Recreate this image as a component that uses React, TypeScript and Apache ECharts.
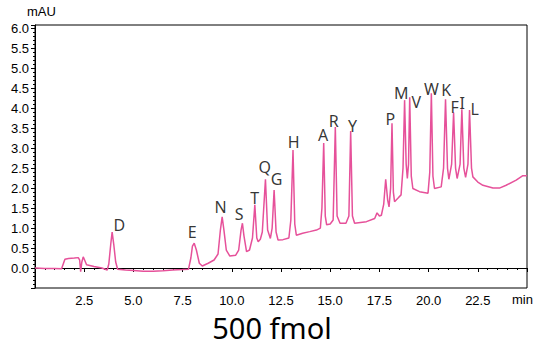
import React, { useEffect, useRef } from "react";
import * as echarts from "echarts";

// Chromatogram trace: [time (min), absorbance (mAU)]
const traceTimes: number[] = [
  0, 0.5, 1.0, 1.35, 1.52, 1.7, 2.0, 2.2, 2.27, 2.32, 2.38, 2.45, 2.52, 2.62, 3.0, 3.4, 3.67,
  3.75, 3.85, 3.92, 4.0, 4.1, 4.2, 4.6, 5.0, 5.5, 6.0, 6.5, 7.0, 7.5, 7.8,
  7.92, 8.0, 8.09, 8.2, 8.35, 8.5, 8.8, 9.1, 9.3, 9.42, 9.51, 9.6, 9.72, 9.9,
  10.2, 10.35, 10.47, 10.54, 10.62, 10.75, 10.9, 11.05, 11.17, 11.27, 11.34, 11.45, 11.55,
  11.71, 11.82, 11.96, 12.05, 12.15, 12.25, 12.35, 12.6, 12.9, 13.0, 13.11, 13.2, 13.28,
  13.6, 13.96, 14.3, 14.5, 14.58, 14.67, 14.75, 14.82, 15.0, 15.15, 15.26, 15.35, 15.5,
  15.8, 15.95, 16.04, 16.13, 16.24, 16.84, 17.26, 17.38, 17.5, 17.6, 17.72, 17.82, 17.92,
  17.99, 18.07, 18.14, 18.21, 18.27, 18.45, 18.6, 18.7, 18.78, 18.86, 18.92, 18.98, 19.04,
  19.12, 19.2, 19.54, 19.97, 20.06, 20.14, 20.22, 20.3, 20.64, 20.76, 20.86, 20.96, 21.03,
  21.17, 21.27, 21.37, 21.45, 21.6, 21.69, 21.79, 21.88, 22.0, 22.08, 22.18, 22.25, 22.5,
  22.76, 23.27, 23.6, 23.94, 24.45, 24.79, 25.0,
];
const traceValues: number[] = [
  0.0, -0.01, -0.01, -0.02, 0.22, 0.24, 0.25, 0.26, 0.2, -0.09, 0.15, 0.28, 0.2, 0.08, 0.04, 0.0, -0.05,
  0.1, 0.6, 0.9, 0.6, 0.15, -0.03, -0.05, -0.06, -0.08, -0.08, -0.07, -0.05, -0.04, -0.03,
  0.25, 0.55, 0.62, 0.45, 0.12, 0.05, 0.12, 0.2, 0.35, 0.95, 1.28, 0.95, 0.45, 0.3,
  0.32, 0.45, 0.95, 1.12, 0.8, 0.41, 0.45, 0.75, 1.58, 0.75, 0.66, 0.72, 0.9,
  2.22, 0.95, 0.74, 1.0, 1.95, 0.9, 0.7, 0.71, 0.75, 1.2, 2.95, 1.1, 0.82,
  0.87, 0.91, 0.95, 1.0, 1.5, 3.13, 1.3, 1.08, 1.1, 1.2, 3.53, 1.3, 1.12,
  1.12, 1.3, 3.43, 1.3, 1.12, 1.16, 1.24, 1.38, 1.3, 1.32, 1.6, 2.22, 1.7,
  1.53, 2.0, 3.62, 1.9, 1.66, 1.75, 1.83, 2.5, 4.2, 2.6, 2.24, 2.6, 4.27,
  2.3, 1.99, 1.91, 1.87, 2.4, 4.37, 2.3, 1.99, 2.03, 2.5, 4.22, 2.5, 2.22,
  2.6, 3.89, 2.5, 2.24, 2.6, 3.97, 2.5, 2.27, 2.6, 3.95, 2.5, 2.28, 2.15,
  2.07, 2.0, 2.0, 2.07, 2.2, 2.31, 2.31,
];

// Peak annotations: amino acid letter, label time, label height
const peakNames: string[] = ["D", "E", "N", "S", "T", "Q", "G", "H", "A", "R", "Y", "P", "M", "V", "W", "K", "F", "I", "L"];
const peakLabelTimes: number[] = [4.28, 7.99, 9.43, 10.37, 11.17, 11.68, 12.27, 13.15, 14.64, 15.18, 16.13, 18.05, 18.61, 19.37, 20.14, 20.9, 21.32, 21.71, 22.34];
const peakLabelValues: number[] = [1.07, 0.89, 1.53, 1.34, 1.74, 2.52, 2.22, 3.16, 3.33, 3.68, 3.55, 3.72, 4.37, 4.16, 4.49, 4.45, 4.03, 4.13, 3.97];

const xTitle = "min";
const yTitle = "mAU";
const sampleTitle = "500 fmol";

export default function App() {
  const ref = useRef<HTMLDivElement>(null);
  useEffect(() => {
    document.body.style.margin = "0";
    if (!ref.current) return;
    const chart = echarts.init(ref.current, null, { renderer: "svg" });
    const lineData = traceTimes.map((t, i) => [t, traceValues[i]]);
    const labelData = peakNames.map((n, i) => ({ value: [peakLabelTimes[i], peakLabelValues[i]], name: n }));
    const axisFont = { color: "#000", fontFamily: "Liberation Sans, Arial, sans-serif", fontSize: 13 };
    chart.setOption({
      animation: false,
      backgroundColor: "#fff",
      grid: { left: 35, right: 9, top: 25, bottom: 57, show: true, borderColor: "#000", borderWidth: 1 },
      xAxis: {
        type: "value",
        min: 0,
        max: 25,
        interval: 2.5,
        splitLine: { show: false },
        axisLine: { lineStyle: { color: "#000", width: 1 } },
        axisTick: { show: true, length: 4, lineStyle: { color: "#000" } },
        minorTick: { show: true, splitNumber: 5, length: 2, lineStyle: { color: "#000" } },
        axisLabel: {
          ...axisFont,
          margin: 6,
          showMinLabel: false,
          showMaxLabel: false,
          formatter: (v: number) => (v <= 0 || v >= 25 ? "" : v.toFixed(1)),
        },
      },
      yAxis: {
        type: "value",
        min: -0.5,
        max: 6.08,
        interval: 0.5,
        splitLine: { show: false },
        axisLine: { show: true, lineStyle: { color: "#000", width: 1 } },
        axisTick: { show: true, length: 4, lineStyle: { color: "#000" } },
        minorTick: { show: true, splitNumber: 5, length: 2, lineStyle: { color: "#000" } },
        axisLabel: {
          ...axisFont,
          margin: 6,
          showMaxLabel: false,
          formatter: (v: number) =>
            v < 0 || Math.abs(v * 2 - Math.round(v * 2)) > 1e-6 ? "" : v.toFixed(1),
        },
      },
      series: [
        {
          type: "line",
          data: lineData,
          showSymbol: false,
          symbol: "none",
          lineStyle: { color: "#e6519a", width: 1.5 },
          z: 2,
        },
        {
          type: "scatter",
          data: labelData,
          symbolSize: 0,
          silent: true,
          label: {
            show: true,
            position: "inside",
            formatter: (p: any) => p.name,
            color: "#000",
            fontFamily: "Noto Sans, Open Sans, sans-serif",
            fontSize: 16,
          },
          z: 3,
        },
      ],
      graphic: [
        {
          type: "text",
          left: 27,
          top: 5,
          style: { text: yTitle, fill: "#000", font: "13px Liberation Sans, Arial, sans-serif" },
        },
        {
          type: "text",
          left: 512,
          top: 293,
          style: { text: xTitle, fill: "#000", font: "13px Liberation Sans, Arial, sans-serif" },
        },
        {
          type: "text",
          x: 272,
          y: 327,
          style: {
            text: sampleTitle,
            fill: "#000",
            font: "29px Noto Sans, Open Sans, sans-serif",
            textAlign: "center",
            textVerticalAlign: "middle",
          },
        },
      ],
    });
    return () => chart.dispose();
  }, []);
  return <div ref={ref} style={{ width: 536, height: 345 }} />;
}
